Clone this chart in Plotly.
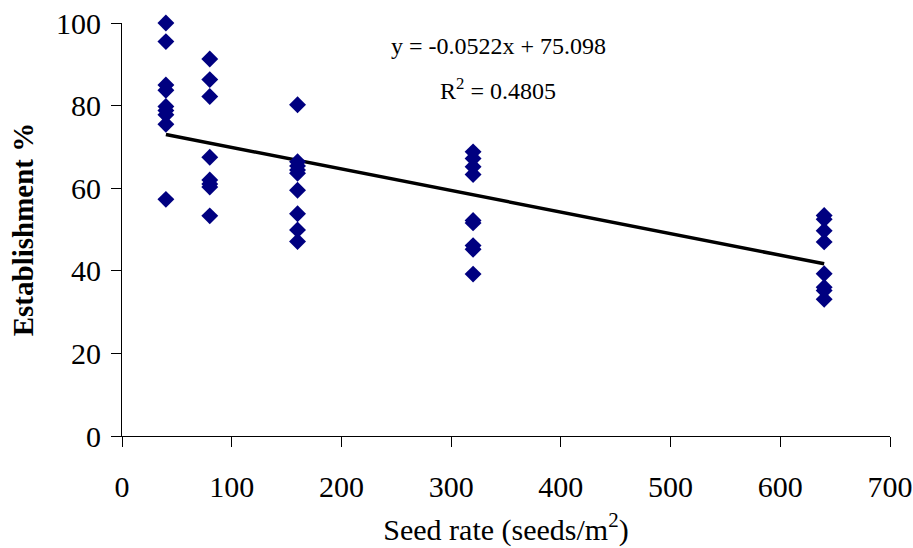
import plotly.graph_objects as go

# Data
seed_rate_40 = [100, 95.5, 85.0, 83.7, 79.8, 78.8, 77.8, 75.5, 57.3]
seed_rate_80 = [91.3, 86.3, 82.2, 67.5, 62.0, 61.0, 60.3, 53.3]
seed_rate_160 = [80.2, 66.4, 65.4, 64.4, 63.6, 59.5, 53.8, 49.9, 47.1]
seed_rate_320 = [68.8, 67.2, 65.2, 63.3, 52.2, 51.6, 46.1, 45.2, 39.2]
seed_rate_640 = [53.4, 52.5, 49.7, 47.0, 39.3, 36.0, 35.2, 33.1]

seed_rates = [40, 80, 160, 320, 640]
groups = [seed_rate_40, seed_rate_80, seed_rate_160, seed_rate_320, seed_rate_640]

slope = -0.0522
intercept = 75.098
r_squared = 0.4805

x_ticks = [0, 100, 200, 300, 400, 500, 600, 700]
y_ticks = [0, 20, 40, 60, 80, 100]

xs, ys = [], []
for rate, vals in zip(seed_rates, groups):
    for v in vals:
        xs.append(rate)
        ys.append(v)

trend_x = [min(seed_rates), max(seed_rates)]
trend_y = [slope * x + intercept for x in trend_x]

font_family = "Liberation Serif, Times New Roman, serif"

fig = go.Figure()
fig.add_trace(go.Scatter(
    x=trend_x, y=trend_y, mode="lines",
    line=dict(color="black", width=3.5),
    showlegend=False, hoverinfo="skip", cliponaxis=False))
fig.add_trace(go.Scatter(
    x=xs, y=ys, mode="markers",
    marker=dict(symbol="diamond", size=13, color="#000080",
                line=dict(width=0)),
    showlegend=False, hoverinfo="skip", cliponaxis=False))

fig.add_annotation(
    text=f"y = {slope}x + {intercept}",
    xref="paper", yref="paper", x=0.49, y=0.98,
    showarrow=False, font=dict(family=font_family, size=24, color="black"))
fig.add_annotation(
    text=f"R<sup>2</sup> = {r_squared}",
    xref="paper", yref="paper", x=0.49, y=0.882,
    showarrow=False, font=dict(family=font_family, size=24, color="black"))

fig.update_layout(
    width=913, height=548,
    margin=dict(l=122, r=23, t=23, b=112),
    paper_bgcolor="white", plot_bgcolor="white",
    font=dict(family=font_family, color="black"),
)
fig.update_xaxes(
    range=[0, 700], tickvals=x_ticks, ticks="outside", ticklen=10,
    tickcolor="black", showline=True, linecolor="black", linewidth=1,
    showgrid=False, zeroline=False, automargin=False,
    ticklabelstandoff=14,
    tickfont=dict(size=30, family=font_family),
    title=dict(text="Seed rate (seeds/m<sup>2</sup>)",
               font=dict(size=30, family=font_family), standoff=16),
)
fig.update_yaxes(
    range=[0, 100], tickvals=y_ticks, ticks="outside", ticklen=10,
    tickcolor="black", showline=True, linecolor="black", linewidth=1,
    showgrid=False, zeroline=False, automargin=False,
    ticklabelstandoff=4,
    tickfont=dict(size=30, family=font_family),
    title=dict(text="<b>Establishment %</b>",
               font=dict(size=29, family=font_family), standoff=13),
)

fig.write_html("out.html")
